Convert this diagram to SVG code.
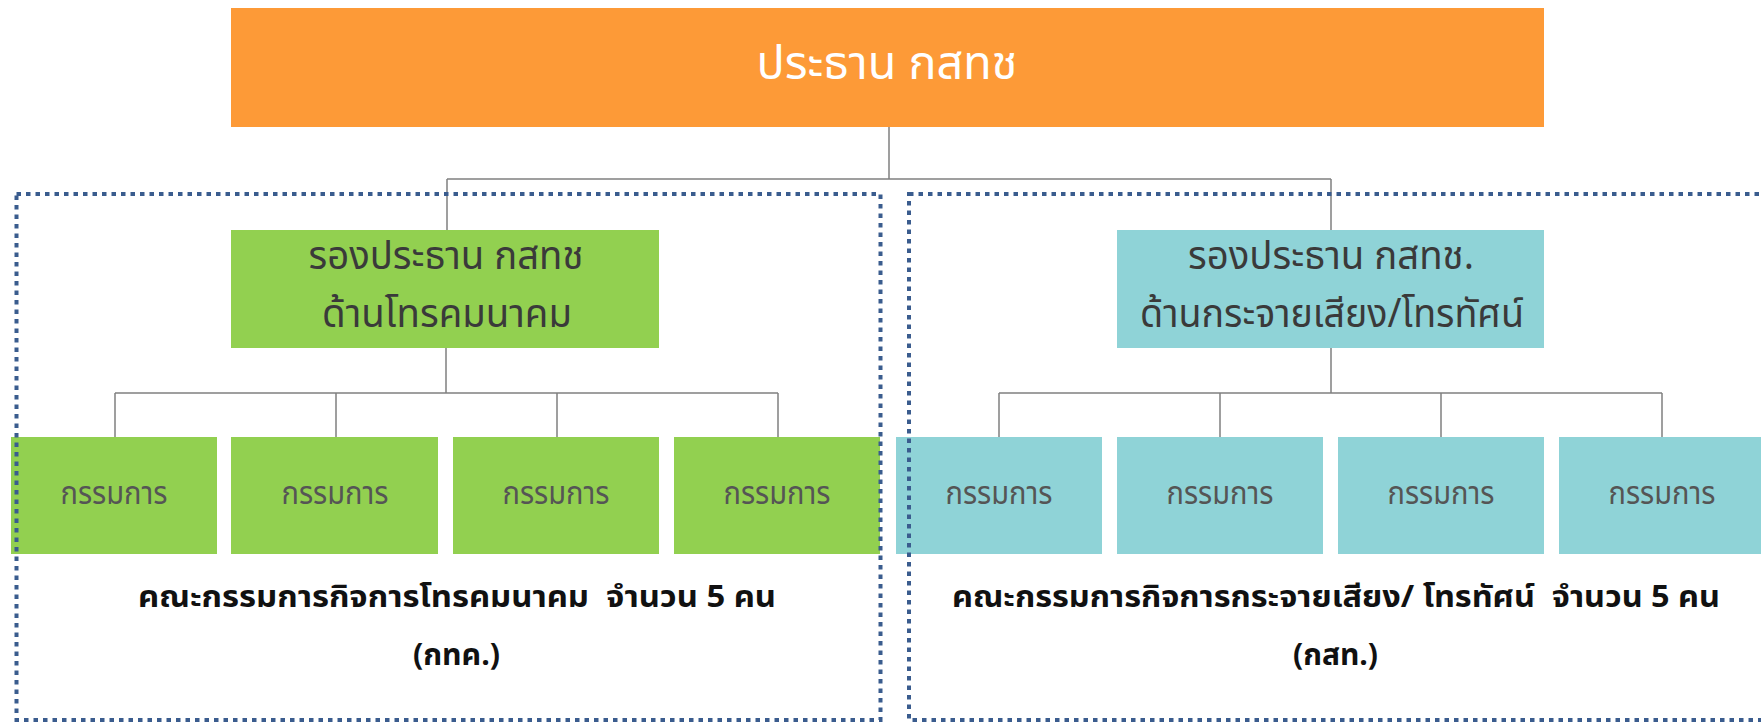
<svg xmlns="http://www.w3.org/2000/svg" width="1761" height="722" viewBox="0 0 1761 722">
  <style>
    text { font-family: "Noto Sans Thai", "Tahoma", "Noto Sans", "DejaVu Sans", sans-serif; text-anchor: middle; }
    .title { font-size: 46px; fill: #ffffff; }
    .vp { font-size: 40px; fill: #3a3a3a; }
    .mem { font-size: 32px; fill: #555555; }
    .foot { font-size: 30px; font-weight: bold; fill: #111111; }
    .orange { fill: #FD9A37; }
    .green { fill: #92D050; }
    .teal { fill: #8FD3D7; }
    .conn { stroke: #808080; stroke-width: 1.5; fill: none; }
    .group { stroke: #3A5C8E; stroke-width: 4; stroke-dasharray: 4.5 5; fill: none; }
  </style>
  <rect width="1761" height="722" fill="#ffffff"/>

  <g id="chair">
    <rect class="orange" x="231" y="8" width="1313" height="119"/>
    <text class="title" x="887" y="79" textLength="261" lengthAdjust="spacingAndGlyphs">ประธาน กสทช</text>
  </g>

  <g id="vp-telecom">
    <rect class="green" x="231" y="230" width="428" height="118"/>
    <text class="vp" x="446" y="269" textLength="275" lengthAdjust="spacingAndGlyphs">รองประธาน กสทช</text>
    <text class="vp" x="447" y="327" textLength="250" lengthAdjust="spacingAndGlyphs">ด้านโทรคมนาคม</text>
  </g>

  <g id="vp-broadcast">
    <rect class="teal" x="1117" y="230" width="427" height="118"/>
    <text class="vp" x="1331" y="269" textLength="286" lengthAdjust="spacingAndGlyphs">รองประธาน กสทช.</text>
    <text class="vp" x="1332" y="327" textLength="384" lengthAdjust="spacingAndGlyphs">ด้านกระจายเสียง/โทรทัศน์</text>
  </g>

  <g id="tel-m1"><rect class="green" x="11" y="437" width="206" height="117"/><text class="mem" x="114" y="504" textLength="107" lengthAdjust="spacingAndGlyphs">กรรมการ</text></g>
  <g id="tel-m2"><rect class="green" x="231" y="437" width="207" height="117"/><text class="mem" x="335" y="504" textLength="107" lengthAdjust="spacingAndGlyphs">กรรมการ</text></g>
  <g id="tel-m3"><rect class="green" x="453" y="437" width="206" height="117"/><text class="mem" x="556" y="504" textLength="107" lengthAdjust="spacingAndGlyphs">กรรมการ</text></g>
  <g id="tel-m4"><rect class="green" x="674" y="437" width="206" height="117"/><text class="mem" x="777" y="504" textLength="107" lengthAdjust="spacingAndGlyphs">กรรมการ</text></g>

  <g id="bc-m1"><rect class="teal" x="896" y="437" width="206" height="117"/><text class="mem" x="999" y="504" textLength="107" lengthAdjust="spacingAndGlyphs">กรรมการ</text></g>
  <g id="bc-m2"><rect class="teal" x="1117" y="437" width="206" height="117"/><text class="mem" x="1220" y="504" textLength="107" lengthAdjust="spacingAndGlyphs">กรรมการ</text></g>
  <g id="bc-m3"><rect class="teal" x="1338" y="437" width="206" height="117"/><text class="mem" x="1441" y="504" textLength="107" lengthAdjust="spacingAndGlyphs">กรรมการ</text></g>
  <g id="bc-m4"><rect class="teal" x="1559" y="437" width="206" height="117"/><text class="mem" x="1662" y="504" textLength="107" lengthAdjust="spacingAndGlyphs">กรรมการ</text></g>

  <g id="connectors">
    <path class="conn" d="M889 127 V179 M447 179 H1331 M447 179 V230 M1331 179 V230"/>
    <path class="conn" d="M446 348 V393 M115 393 H778 M115 393 V437 M336 393 V437 M557 393 V437 M778 393 V437"/>
    <path class="conn" d="M1331 348 V393 M999 393 H1662 M999 393 V437 M1220 393 V437 M1441 393 V437 M1662 393 V437"/>
  </g>

  <g id="committee-telecom">
    <rect class="group" x="16.5" y="194" width="864" height="526"/>
    <text class="foot" x="457" y="607" textLength="638" lengthAdjust="spacingAndGlyphs">คณะกรรมการกิจการโทรคมนาคม&#160; จำนวน 5 คน</text>
    <text class="foot" x="456.5" y="665" textLength="87" lengthAdjust="spacingAndGlyphs">(กทค.)</text>
  </g>

  <g id="committee-broadcast">
    <rect class="group" x="909" y="194" width="900" height="526"/>
    <text class="foot" x="1336" y="607" textLength="768" lengthAdjust="spacingAndGlyphs">คณะกรรมการกิจการกระจายเสียง/ โทรทัศน์&#160; จำนวน 5 คน</text>
    <text class="foot" x="1335.5" y="665" textLength="85" lengthAdjust="spacingAndGlyphs">(กสท.)</text>
  </g>
</svg>
